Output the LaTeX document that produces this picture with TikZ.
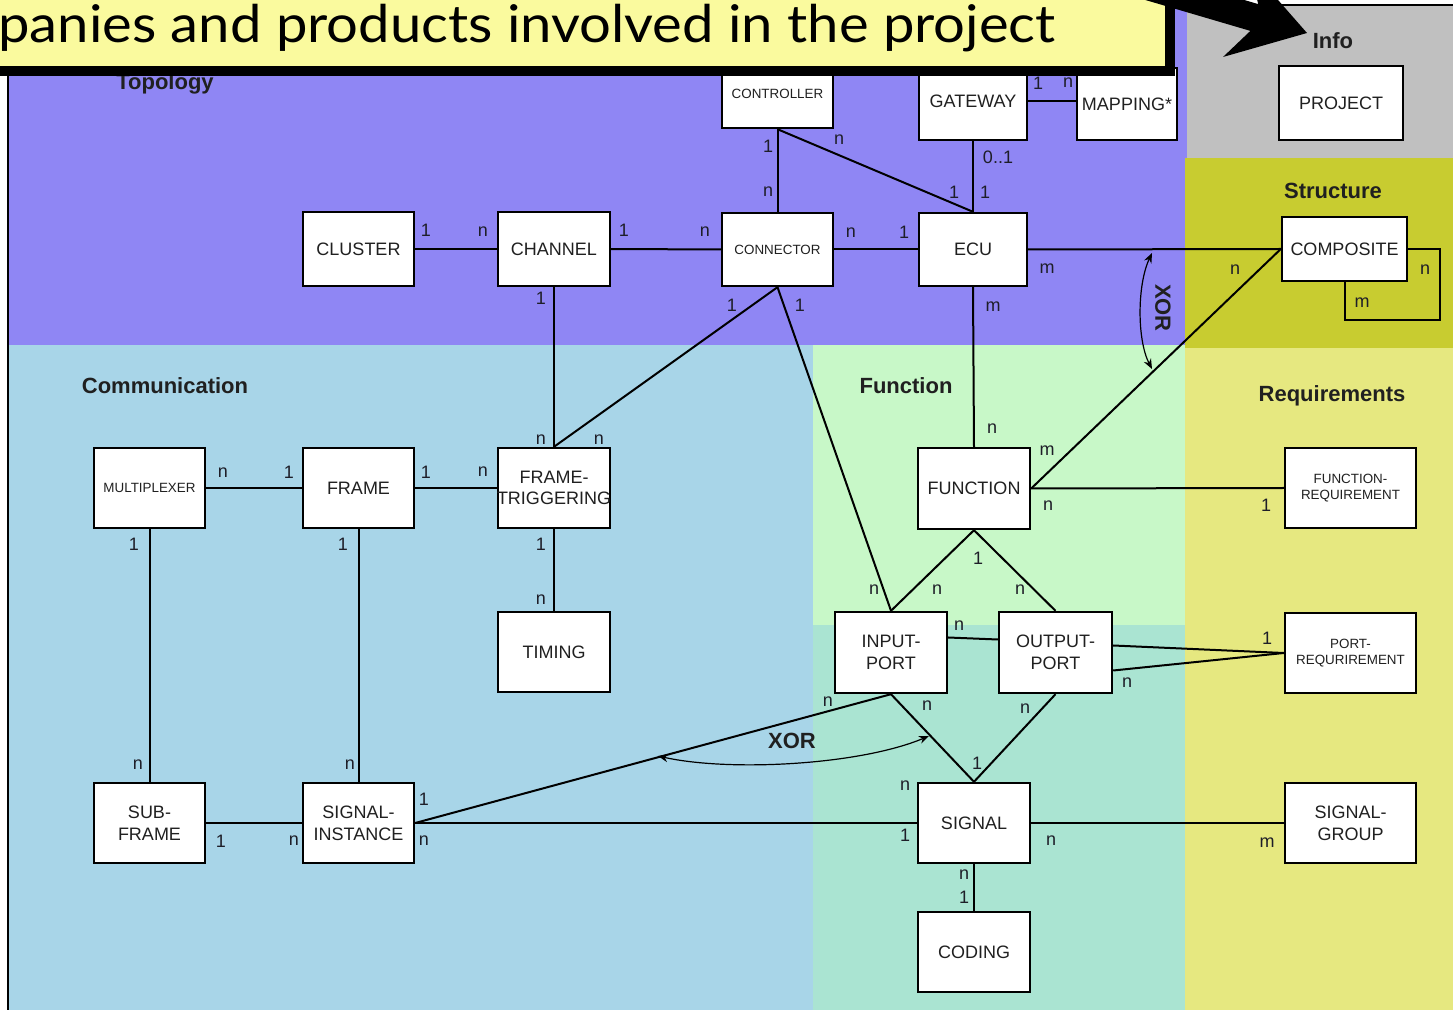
\documentclass[tikz,border=0pt]{standalone}
\usepackage{graphicx}
\usepackage{fontspec}
\setmainfont{Liberation Sans}
\newfontfamily\bannerfont{Lato}
\usetikzlibrary{calc,arrows.meta}
\definecolor{topo}{RGB}{143,134,244}
\definecolor{infobg}{RGB}{192,192,192}
\definecolor{struct}{RGB}{200,204,48}
\definecolor{reqbg}{RGB}{230,232,128}
\definecolor{commbg}{RGB}{168,213,232}
\definecolor{funcbg}{RGB}{200,248,200}
\definecolor{sigbg}{RGB}{170,228,210}
\definecolor{bannerbg}{RGB}{250,250,158}
\definecolor{txt}{RGB}{32,32,32}
\definecolor{lbltxt}{RGB}{30,30,40}

\begin{document}
\begin{tikzpicture}[x=0.5pt,y=-0.5pt,
  box/.style={draw=black, line width=1.2pt, fill=white, inner sep=1pt, align=center,
              text=txt, font=\fontsize{9}{11}\selectfont},
  smalltext/.style={font=\fontsize{6.7}{8}\selectfont},
  lbl/.style={font=\fontsize{9}{10}\selectfont, text=lbltxt, inner sep=0pt},
  title/.style={font=\bfseries\fontsize{11}{13}\selectfont, text=txt, inner sep=0pt},
  link/.style={line width=1pt, draw=black},
  xorarc/.style={line width=0.6pt, {Stealth[length=5pt,width=4pt]}-{Stealth[length=5pt,width=4pt]}}
]
\useasboundingbox (0,0) rectangle (1453,1010);
\clip (0,0) rectangle (1453,1010);

% ---- area backgrounds ----
\fill[white] (0,0) rectangle (1453,1010);
\fill[topo] (8,6) rectangle (1187,345);
\fill[infobg] (1187,6) rectangle (1453,158);
\fill[struct] (1185,158) rectangle (1453,348);
\fill[reqbg] (1185,348) rectangle (1453,1010);
\fill[commbg] (9,345) rectangle (813,1010);
\fill[funcbg] (813,345) rectangle (1185,625);
\fill[sigbg] (813,625) rectangle (1185,1010);
\draw[line width=1pt] (8,0) -- (8,1010);
\draw[line width=1pt] (1175,5) -- (1453,5);

% ---- area titles ----
\node[title] (tTopo) at (165,84) {Topology};
\node[title] (tComm) at (165,386) {Communication};
\node[title] (tFunc) at (906,386) {Function};
\node[title] (tReq) at (1332,396) {Requirements};
\node[title] (tStruct) at (1333,191) {Structure};
\node[title] (tInfo) at (1333,41) {Info};

% ---- entities ----
\node[box, smalltext, minimum width=55.5pt, minimum height=34pt] (ctrl) at (777.5,94) {CONTROLLER};
\node[box, minimum width=54pt, minimum height=39pt] (gw) at (973,101) {GATEWAY};
\node[box, minimum width=50pt, minimum height=36pt] (map) at (1127,104) {MAPPING*};
\node[box, minimum width=62pt, minimum height=37pt] (proj) at (1341,103) {PROJECT};
\node[box, minimum width=55.5pt, minimum height=37pt] (cluster) at (358.5,249) {CLUSTER};
\node[box, minimum width=56pt, minimum height=37pt] (chan) at (554,249) {CHANNEL};
\node[box, smalltext, minimum width=55.5pt, minimum height=36.5pt] (conn) at (777.5,249.5) {CONNECTOR};
\node[box, minimum width=54pt, minimum height=36.5pt] (ecu) at (973,249.5) {ECU};
\node[box, minimum width=62.5pt, minimum height=32pt] (comp) at (1344.5,249) {COMPOSITE};
\node[box, smalltext, minimum width=55.5pt, minimum height=40pt] (mux) at (149.5,488) {MULTIPLEXER};
\node[box, minimum width=55.5pt, minimum height=40pt] (frame) at (358.5,488) {FRAME};
\node[box, minimum width=56pt, minimum height=40pt, text width=50pt, inner sep=0pt] (ft) at (554,488) {FRAME-\\[-0.5pt]\makebox[50pt][c]{TRIGGERING}};
\node[box, minimum width=56pt, minimum height=40.5pt] (func) at (974,488.5) {FUNCTION};
\node[box, smalltext, minimum width=65.5pt, minimum height=40pt] (freq) at (1350.5,488) {FUNCTION-\\REQUIREMENT};
\node[box, minimum width=56pt, minimum height=40pt] (timing) at (554,652) {TIMING};
\node[box, minimum width=56pt, minimum height=40.5pt] (in) at (891,652.5) {INPUT-\\PORT};
\node[box, minimum width=56.5pt, minimum height=40.5pt] (out) at (1055.5,652.5) {OUTPUT-\\PORT};
\node[box, smalltext, minimum width=65.5pt, minimum height=40pt] (preq) at (1350.5,653) {PORT-\\REQURIREMENT};
\node[box, minimum width=55.5pt, minimum height=40pt] (sub) at (149.5,823) {SUB-\\FRAME};
\node[box, minimum width=55.5pt, minimum height=40pt] (si) at (358.5,823) {SIGNAL-\\INSTANCE};
\node[box, minimum width=56pt, minimum height=40pt] (sig) at (974,823) {SIGNAL};
\node[box, minimum width=65.5pt, minimum height=40pt] (sg) at (1350.5,823) {SIGNAL-\\GROUP};
\node[box, minimum width=56pt, minimum height=40pt] (coding) at (974,952) {CODING};

% ---- relations ----
\draw[link] (gw.east) -- (map.west |- gw.east);
\draw[link] (ctrl.south) -- (conn.north);
\draw[link] (ctrl.south) -- (ecu.north);
\draw[link] (gw.south) -- (ecu.north);
\draw[link] (cluster) -- (chan);
\draw[link] (chan) -- (conn);
\draw[link] (conn) -- (ecu);
\draw[link] (ecu.east) -- (comp.west);
\coordinate (loopA) at (1440,320);
\draw[link] (comp.east) -| (loopA) -| (comp.south);
\draw[link] (ecu.south) -- (func.north);
\draw[link] (func.east) -- (comp.west);
\draw[link] (func.east) -- (freq.west);
\draw[link] (chan.south) -- (ft.north);
\draw[link] (conn.south) -- (ft.north);
\draw[link] (conn.south) -- (in.north);
\draw[link] (mux) -- (frame);
\draw[link] (frame) -- (ft);
\draw[link] (mux) -- (sub);
\draw[link] (frame) -- (si);
\draw[link] (ft) -- (timing);
\draw[link] (func.south) -- (in.north);
\draw[link] (func.south) -- (out.north);
\draw[link] ($(in.east)+(0,-15)$) -- ($(out.west)+(0,-13)$);
\draw[link] ($(out.east)+(0,-7)$) -- (preq.west);
\draw[link] ($(out.east)+(0,18)$) -- (preq.west);
\draw[link] (in.south) -- (sig.north);
\draw[link] (out.south) -- (sig.north);
\draw[link] (in.south) -- (si.east);
\draw[link] (si.east) -- (sig.west);
\draw[link] (sub) -- (si);
\draw[link] (sig) -- (sg);
\draw[link] (sig) -- (coding);

% ---- cardinalities ----
\foreach \x/\y/\t [count=\i] in {
  1038/83/1, 1068/83/n,
  768/146/1, 768/192/n,
  839/140/n, 954/192/1,
  998/157/{0..1}, 985/192/1,
  426/230/1, 483/232/n,
  624/230/1, 705/232/n,
  851/233/n, 904/232/1,
  1047/269/m, 1235/270/n,
  1425/270/n, 1362/303/m,
  993/307/m, 992/429/n,
  732/305/1, 800/305/1,
  541/298/1, 541/440/n, 599/440/n,
  1047/451/m, 1048/506/n, 1266/505/1,
  978/558/1, 937/590/n, 1020/590/n, 874/590/n,
  959/626/n, 1127/683/n, 1267/638/1,
  828/702/n, 927/706/n, 1025/709/n,
  977/763/1, 905/786/n, 905/835/1,
  964/875/n, 964/897/1,
  1051/841/n, 1267/843/m,
  424/799/1, 424/841/n, 294/841/n, 221/841/1,
  223/473/n, 289/472/1,
  426/472/1, 483/472/n,
  134/544/1, 138/765/n,
  343/544/1, 350/765/n,
  541/544/1, 541/600/n}
  \node[lbl] (card\i) at (\x,\y) {\t};

% ---- exclusive-or constraints ----
\coordinate (xa) at (1152,253);
\coordinate (xb) at (1152,369);
\draw[xorarc] (xa) .. controls (1137,285) and (1137,340) .. (xb);
\node[title, rotate=-90] (xorv) at (1163,308) {XOR};
\coordinate (xc) at (658,756);
\coordinate (xd) at (929,736);
\draw[xorarc] (xc) .. controls (730,772) and (860,765) .. (xd);
\node[title] (xorh) at (792,741) {XOR};

% ---- banner with drop shadow ----
\fill[black] (-20,-20) rectangle (1175,76);
\filldraw[fill=bannerbg, draw=black, line width=0.8pt] (-20,-20) rectangle (1166,67);
\node[anchor=base west, inner sep=0pt, font=\bannerfont\fontsize{26}{28}\selectfont] (banner) at (-2,43)
  {\scalebox{1.08}[1]{panies and products involved in the project}};

% ---- pointer arrow ----
\fill[black] (1307,33) -- (1223,57) -- (1250.4,30.9) -- (1063.4,-24.1) -- (1071.2,-50.9)
  -- (1258.2,4.1) -- (1249.4,-32.6) -- cycle;
\end{tikzpicture}
\end{document}
